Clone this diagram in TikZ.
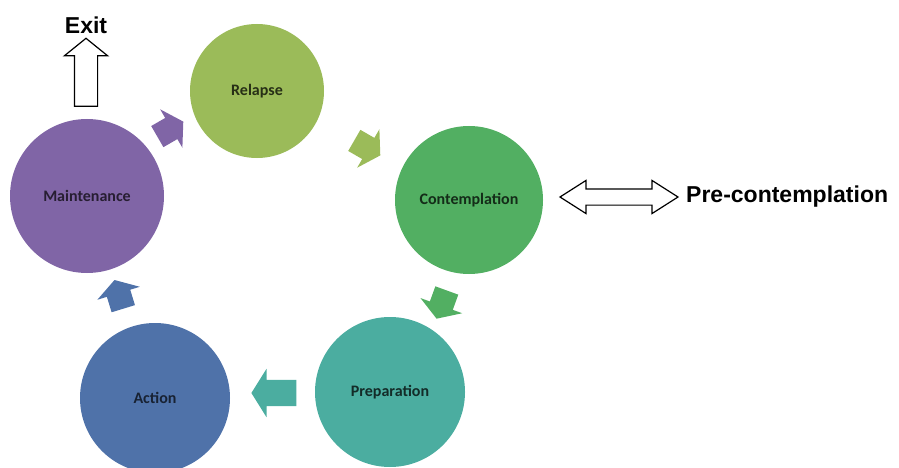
\documentclass[tikz,border=0pt]{standalone}
\usepackage{fontspec}
\setmainfont{Liberation Sans}
\newfontfamily\stagefont{Carlito}
\usetikzlibrary{shapes.arrows}

\definecolor{maintc}{HTML}{8065A6}
\definecolor{relapsec}{HTML}{9BBB59}
\definecolor{contc}{HTML}{52AF62}
\definecolor{prepc}{HTML}{4BADA0}
\definecolor{actionc}{HTML}{4F72A9}

\begin{document}
\begin{tikzpicture}[
      x=1pt, y=-1pt,
      stage/.style={circle, inner sep=0pt, minimum size=#1,
        font=\stagefont\bfseries\fontsize{16}{19}\selectfont},
      cyc/.style={single arrow, fill=#1, draw=none, inner xsep=0pt, inner ysep=12pt,
        minimum width=44pt, minimum height=30pt,
        single arrow head extend=10pt, single arrow tip angle=116},
      hollow/.style={draw=black, fill=white, line width=1.2pt, inner xsep=0pt},
      bigtext/.style={font=\bfseries\fontsize{23}{26}\selectfont, inner sep=0pt}
    ]
    \useasboundingbox (0,0) rectangle (899,468);

    % Nodes for stages
    \node[stage=154pt, fill=maintc, text=maintc!30!black] (M) at (87,196) {Maintenance};
    \node[stage=134pt, fill=relapsec, text=relapsec!25!black] (R) at (257,91) {Relapse};
    \node[stage=148pt, fill=contc, text=contc!25!black] (C) at (469,200) {Contemplation};
    \node[stage=150pt, fill=prepc, text=prepc!25!black] (P) at (390,392) {Preparation};
    \node[stage=150pt, fill=actionc, text=actionc!30!black] (A) at (155,398) {Action};

    % Arrows between stages
    \node[cyc=maintc, rotate=30] (MR) at (167,131) {};
    \node[cyc=relapsec, rotate=-30] (RC) at (364,146) {};
    \node[cyc=contc, rotate=-110] (CP) at (443,301) {};
    \node[cyc=prepc, rotate=180, minimum height=45pt, minimum width=48pt,
      inner ysep=13pt, single arrow head extend=11pt] (PA) at (278,393) {};
    \node[cyc=actionc, rotate=107, minimum height=30pt] (AM) at (120,298) {};

    % Exit and pre-contemplation
    \node[single arrow, hollow, rotate=90, inner ysep=11pt, minimum height=68pt,
      minimum width=42pt, single arrow head extend=10pt,
      single arrow tip angle=102] (exitarrow) at (86,77) {};
    \node[bigtext] (exit) at (86,25) {Exit};
    \node[double arrow, hollow, inner ysep=7.5pt, minimum height=118pt,
      minimum width=32pt, double arrow head extend=8.5pt,
      double arrow tip angle=65] (dbl) at (619,197) {};
    \node[bigtext, anchor=west] (pre) at (686,197) {Pre-contemplation};

    \end{tikzpicture}
\end{document}
